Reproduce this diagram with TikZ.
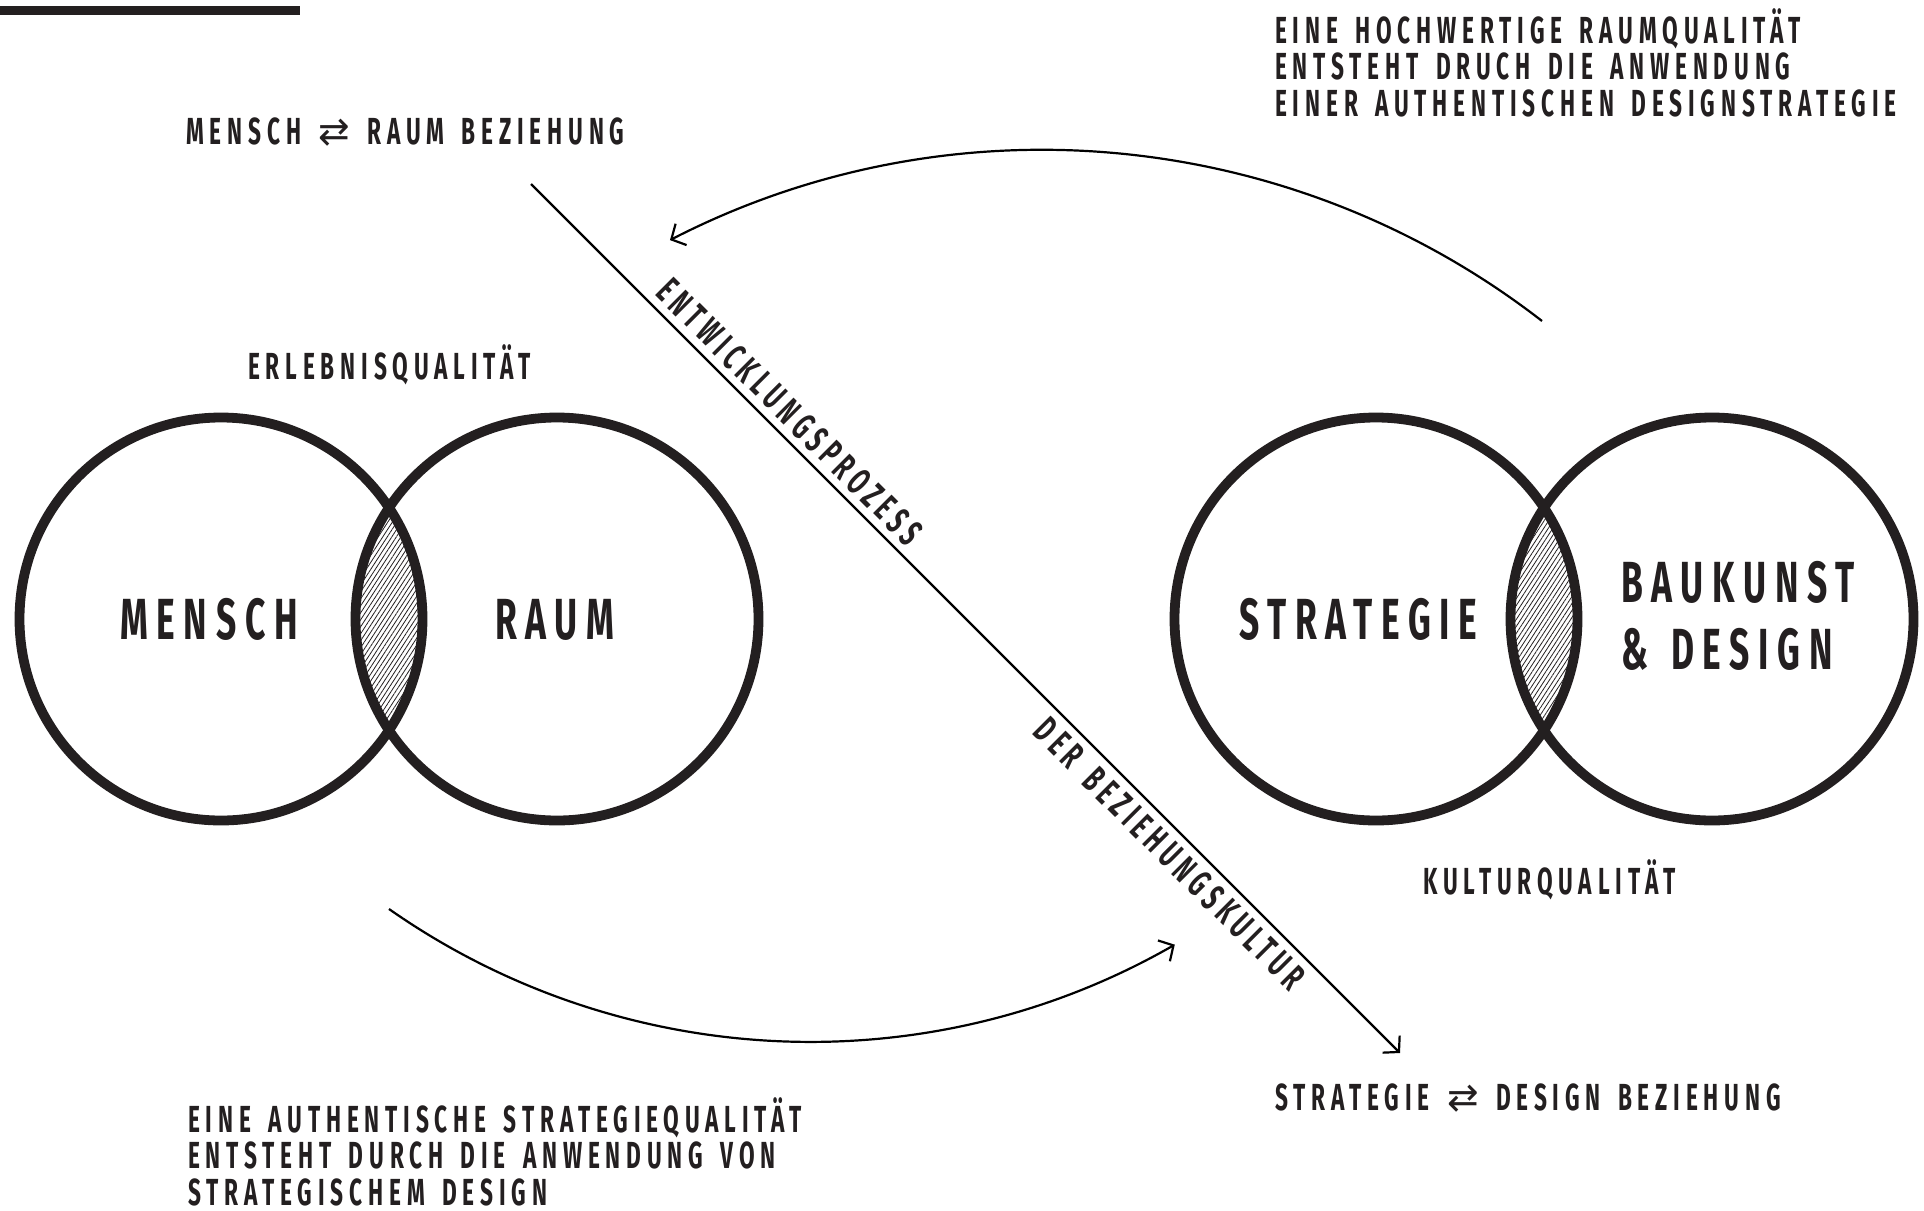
\documentclass[tikz,border=0pt]{standalone}
\usepackage{fontspec}
\setmainfont{Fira Sans}
\newfontfamily\din{Fira Sans}[FakeStretch=0.61, LetterSpace=15, WordSpace=1.35]
\newfontfamily\dins{Fira Sans}[FakeStretch=0.6, LetterSpace=15.5, WordSpace=1.55]
\newfontfamily\symf{DejaVu Sans}
\usetikzlibrary{arrows.meta, patterns.meta}
\definecolor{ink}{HTML}{231F20}
\tikzset{
  ring/.style={circle, draw=ink, line width=9.8pt, minimum size=403pt, inner sep=0pt},
  big/.style={font=\din\bfseries\fontsize{58}{67}\selectfont, text=ink, inner sep=0pt, align=left},
  small/.style={font=\dins\bfseries\fontsize{37.7}{36.5}\selectfont, text=ink, inner sep=0pt, align=left},
  conn/.style={draw=black, line width=2.2pt, -{Straight Barb[length=11pt, width=24pt]}},
  hatch/.style={pattern={Lines[angle=57, distance=3.8pt, line width=0.8pt]}, pattern color=ink},
}
\newcommand{\rel}{{\symf\mdseries\char"21C4}}
\begin{document}
\begin{tikzpicture}[x=1pt, y=-1pt]
\useasboundingbox (0,0) rectangle (1924,1210);
\fill[ink] (0,6) rectangle (300,15);

% circles
\coordinate (cm) at (221,619);
\coordinate (cr) at (557,619);
\coordinate (cs) at (1376,619);
\coordinate (cb) at (1712,619);
\begin{scope}
  \clip (cm) circle[radius=201.5];
  \fill[hatch] (cr) circle[radius=201.5];
\end{scope}
\begin{scope}
  \clip (cs) circle[radius=201.5];
  \fill[hatch] (cb) circle[radius=201.5];
\end{scope}
\node[ring] (mensch) at (cm) {};
\node[ring] (raum) at (cr) {};
\node[ring] (strat) at (cs) {};
\node[ring] (bau) at (cb) {};

\node[big, anchor=base west] (tmensch) at (120,639) {MENSCH};
\node[big, anchor=base west] (traum) at (495,639) {RAUM};
\node[big, anchor=base west] (tstrat) at (1239,639) {STRATEGIE};
\node[big, anchor=base west] (tbau) at (1621,669) {BAUKUNST\\\& DESIGN};

% labels
\node[small, anchor=base west] (rel1) at (186,144) {MENSCH \rel{} RAUM BEZIEHUNG};
\node[small, anchor=base west] (erl) at (248,379) {ERLEBNISQUALITÄT};
\node[small, anchor=base west] (kult) at (1423,894) {KULTURQUALITÄT};
\node[small, anchor=base west] (rel2) at (1275,1110) {STRATEGIE \rel{} DESIGN BEZIEHUNG};
\node[small, anchor=base west] (topr) at (1275,116) {EINE HOCHWERTIGE RAUMQUALITÄT\\ENTSTEHT DRUCH DIE ANWENDUNG\\EINER AUTHENTISCHEN DESIGNSTRATEGIE};
\node[small, anchor=base west] (botl) at (188,1205) {EINE AUTHENTISCHE STRATEGIEQUALITÄT\\ENTSTEHT DURCH DIE ANWENDUNG VON\\STRATEGISCHEM DESIGN};

% diagonal
\coordinate (d1) at (531,184);
\coordinate (d2) at (1400,1053);
\draw[conn] (d1) -- (d2)
  node[small, pos=0.28, sloped, above, inner sep=7pt] (ent) {ENTWICKLUNGSPROZESS}
  node[small, pos=0.753, sloped, below, inner sep=7pt] (der) {DER BEZIEHUNGSKULTUR};

% arcs
\coordinate (a1) at (1542,321);
\draw[conn] (a1) arc[start angle=-52.2, end angle=-117.2, radius=815];
\coordinate (b1) at (389,909);
\draw[conn] (b1) arc[start angle=125, end angle=60.2, radius=734];
\end{tikzpicture}
\end{document}
